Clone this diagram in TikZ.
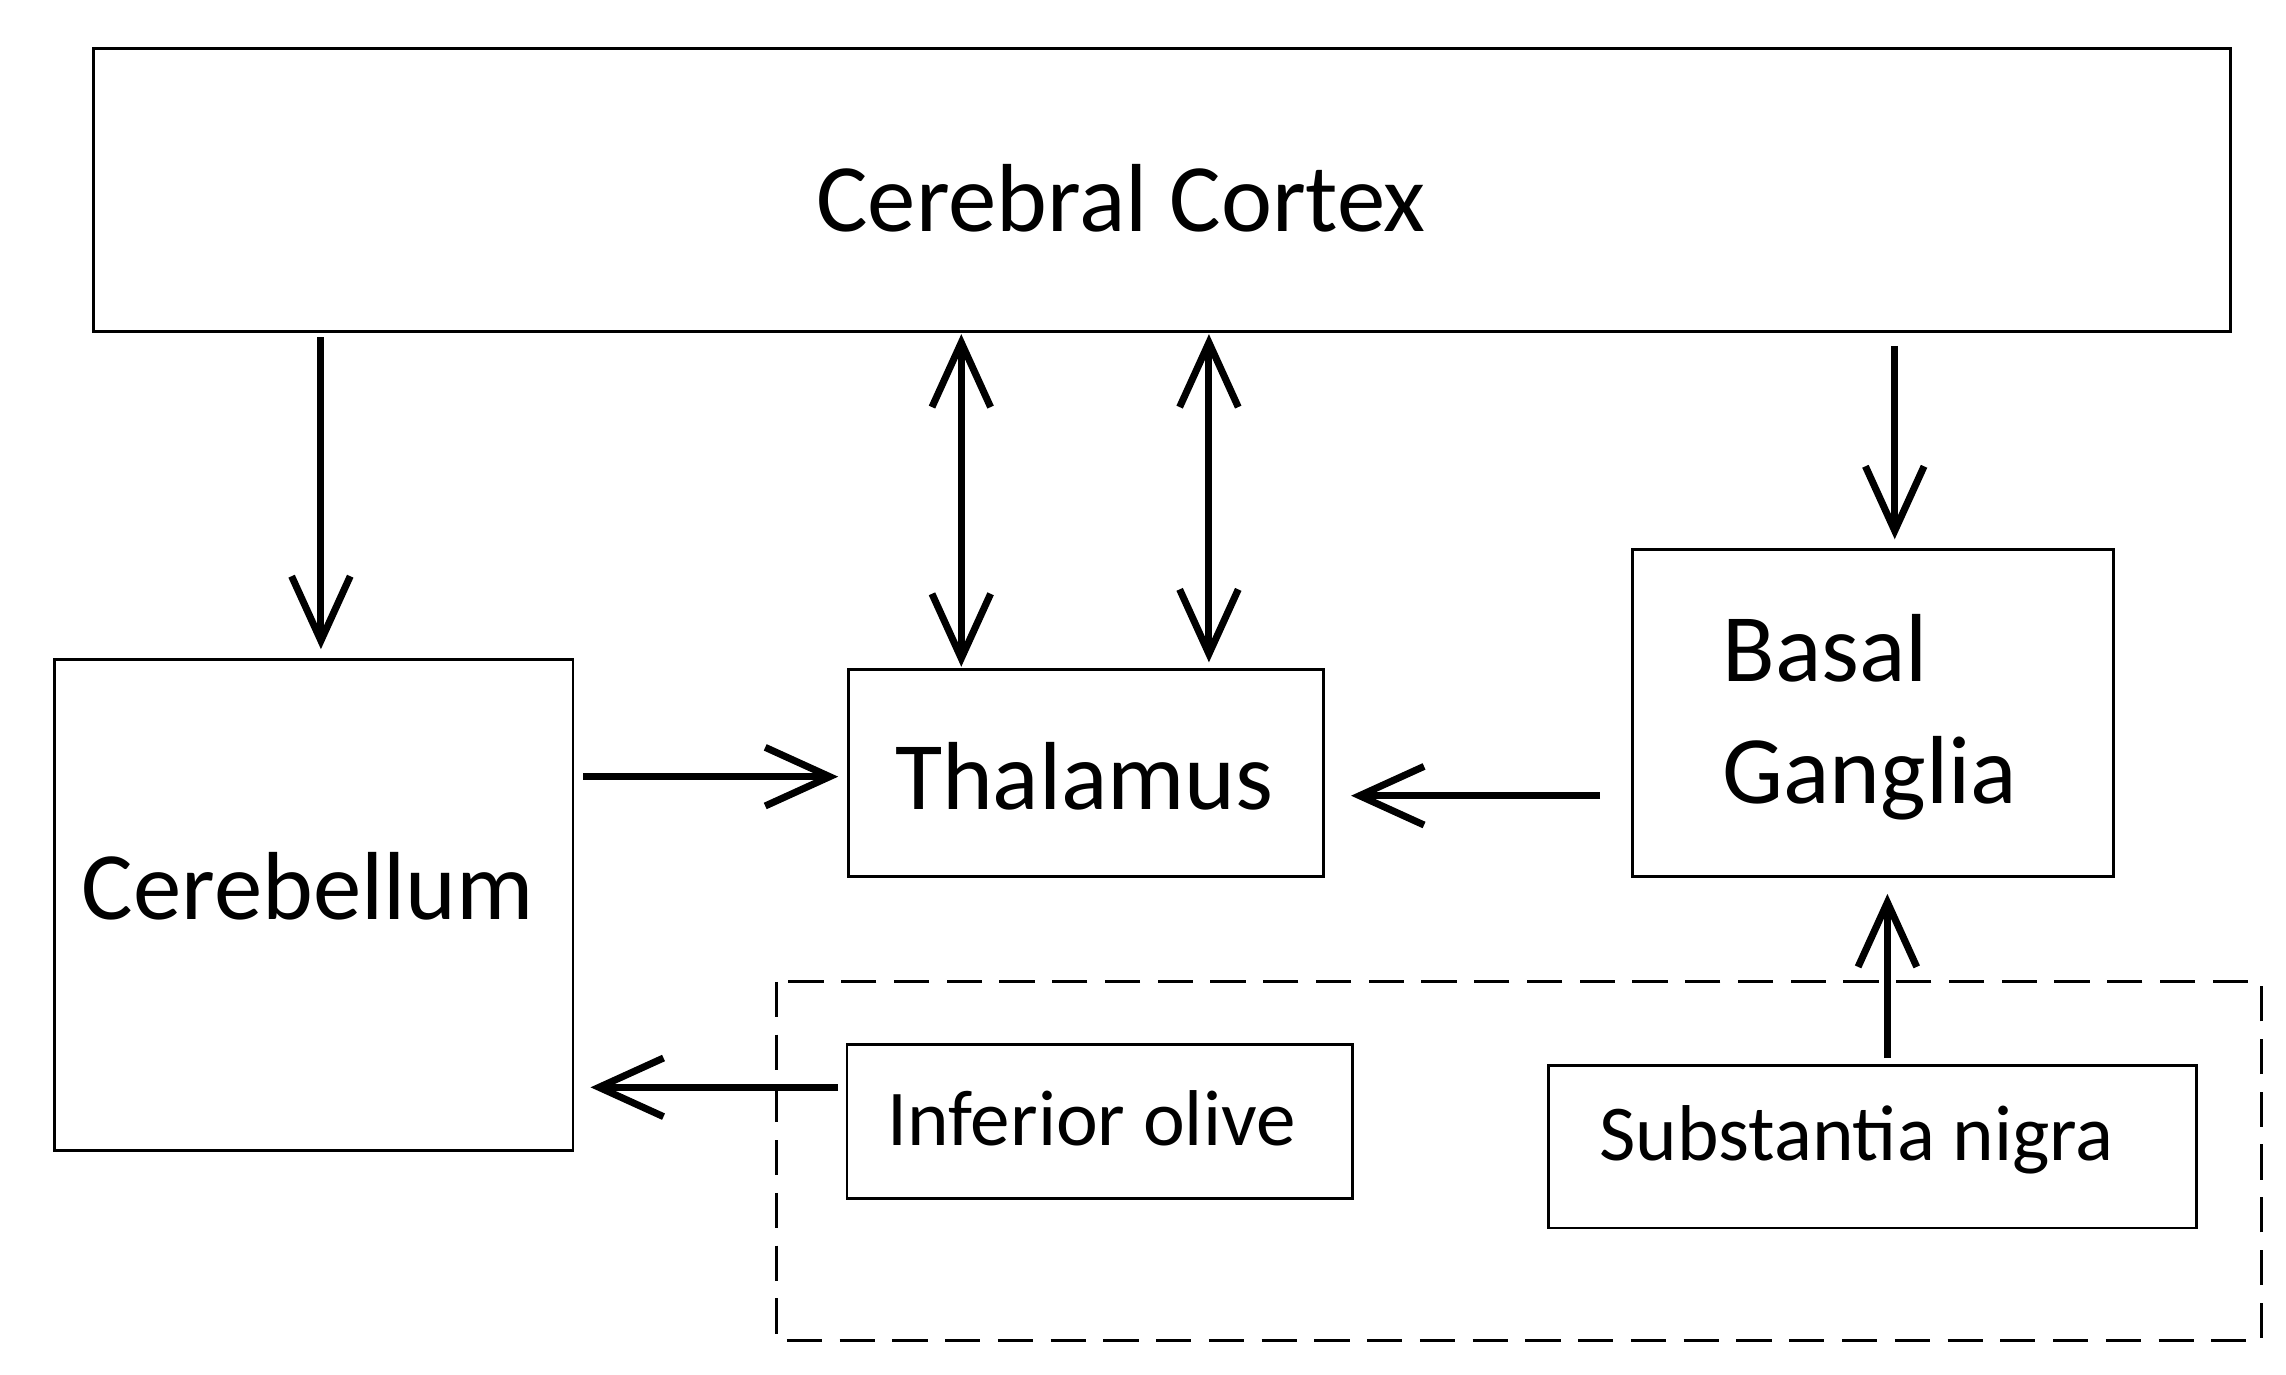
\documentclass[tikz,border=0pt]{standalone}
\usepackage{fontspec}
\setmainfont{Carlito}
\usetikzlibrary{arrows.meta}
\begin{document}
\begin{tikzpicture}[x=0.5pt,y=-0.5pt,
  box/.style={draw,line width=1pt,inner sep=0pt},
  lab/.style={inner sep=0pt},
  arr/.style={line width=2.4pt,-{Straight Barb[length=22pt,width=20pt,line width=2.4pt]}},
  darr/.style={line width=2.4pt,{Straight Barb[length=22pt,width=20pt,line width=2.4pt]}-{Straight Barb[length=22pt,width=20pt,line width=2.4pt]}}]
\useasboundingbox (0,0) rectangle (1560,938);
\draw[box] (64,33) rectangle (1522,226);
\node[lab] (cortex) at (765,135) {\fontsize{33}{38}\selectfont Cerebral Cortex};
\draw[box] (37,450) rectangle (391,785);
\node[lab] (cereb) at (210,605) {\fontsize{33}{38}\selectfont Cerebellum};
\draw[box] (579,457) rectangle (903,598);
\node[lab] (thal) at (740,530) {\fontsize{33}{38}\selectfont Thalamus};
\draw[box] (1114,375) rectangle (1442,598);
\node[lab,anchor=base west] (bg1) at (1175,465) {\fontsize{33}{38}\selectfont Basal};
\node[lab,anchor=base west] (bg2) at (1175,548) {\fontsize{33}{38}\selectfont Ganglia};
\draw[line width=1pt,dash pattern=on 12pt off 6pt] (530,670) rectangle (1543,915);
\draw[box] (578,713) rectangle (923,818);
\node[lab] (io) at (745,763) {\fontsize{27}{32}\selectfont Inferior olive};
\draw[box] (1057,727) rectangle (1499,838);
\node[lab] (sn) at (1267,778) {\fontsize{27}{32}\selectfont Substantia nigra};
\coordinate (a1) at (219,230); \coordinate (b1) at (219,443);
\coordinate (a2) at (656,228); \coordinate (b2) at (656,455);
\coordinate (a3) at (825,228); \coordinate (b3) at (825,452);
\coordinate (a4) at (1293,236); \coordinate (b4) at (1293,368);
\coordinate (a5) at (398,530); \coordinate (b5) at (572,530);
\coordinate (a6) at (1092,543); \coordinate (b6) at (922,543);
\coordinate (a7) at (1288,722); \coordinate (b7) at (1288,610);
\coordinate (a8) at (572,742); \coordinate (b8) at (403,742);
\draw[arr] (a1) -- (b1);
\draw[darr] (a2) -- (b2);
\draw[darr] (a3) -- (b3);
\draw[arr] (a4) -- (b4);
\draw[arr] (a5) -- (b5);
\draw[arr] (a6) -- (b6);
\draw[arr] (a7) -- (b7);
\draw[arr] (a8) -- (b8);
\end{tikzpicture}
\end{document}
